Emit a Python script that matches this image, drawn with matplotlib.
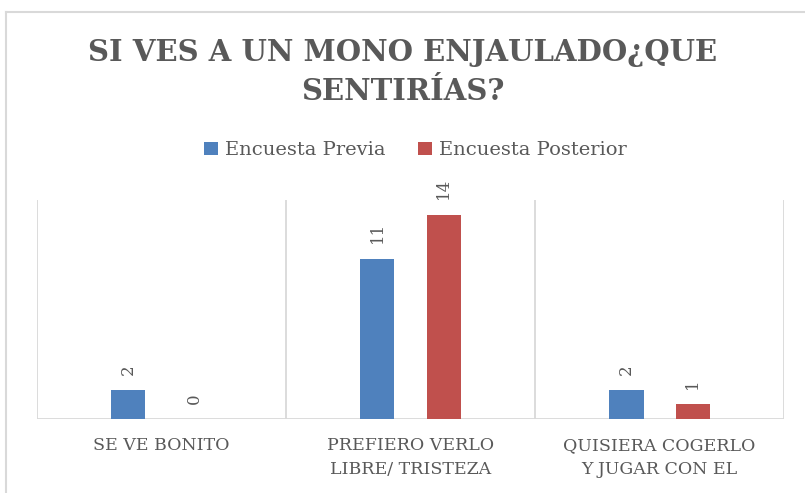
import numpy as np
import matplotlib
matplotlib.use("Agg")
import matplotlib.pyplot as plt
from matplotlib.lines import Line2D

categories = ["SE VE BONITO", "PREFIERO VERLO\nLIBRE/ TRISTEZA", "QUISIERA COGERLO\nY JUGAR CON EL"]
previa = [2, 11, 2]
posterior = [0, 14, 1]
series_names = ["Encuesta Previa", "Encuesta Posterior"]
title = "SI VES A UN MONO ENJAULADO¿QUE\nSENTIRÍAS?"

BLUE = "#4F81BD"
RED = "#C0504D"
TEXT = "#595959"
GRID = "#D9D9D9"

plt.rcParams['font.family'] = ['DejaVu Serif']

fig = plt.figure(figsize=(8.05, 4.93), dpi=100)
ax = fig.add_axes([0.046, 0.150, 0.928, 0.444])

x = np.arange(len(categories))
width = 0.137
off = 0.133
b1 = ax.bar(x - off, previa, width, color=BLUE, label=series_names[0])
b2 = ax.bar(x + off, posterior, width, color=RED, label=series_names[1])

# data labels, rotated like the original
for bars in (b1, b2):
    for rect in bars:
        h = rect.get_height()
        ax.annotate(str(int(h)), (rect.get_x() + rect.get_width() / 2, h),
                    xytext=(0, 11), textcoords="offset points",
                    ha="center", va="bottom", rotation=90,
                    color=TEXT, fontsize=12)

ax.set_xlim(-0.5, len(categories) - 0.5)
ax.set_ylim(0, 15)

# category separators
for b in np.arange(-0.5, len(categories), 1.0):
    ax.axvline(b, color=GRID, lw=1.3, zorder=0)

for s in ax.spines.values():
    s.set_visible(False)
ax.axhline(0, color=GRID, lw=1.3, zorder=0)

ax.set_yticks([])
ax.set_xticks(x)
ax.set_xticklabels(categories, color=TEXT, fontsize=12.5, linespacing=1.5)
ax.tick_params(axis="x", length=0, pad=13)

fig.text(0.5, 0.854, title, ha="center", va="center", fontsize=21,
         fontweight="bold", color=TEXT, linespacing=1.45)

leg = fig.legend(loc="center", bbox_to_anchor=(0.516, 0.695), ncol=2,
                 frameon=False, fontsize=14, handlelength=0.7, handleheight=0.7,
                 handletextpad=0.35, columnspacing=1.7)
for t in leg.get_texts():
    t.set_color(TEXT)

# outer chart border (left and top edges visible)
fig.add_artist(Line2D([6 / 805, 6 / 805], [0, 1 - 12 / 493], transform=fig.transFigure,
                      color=GRID, lw=1.5))
fig.add_artist(Line2D([6 / 805, 1], [1 - 12 / 493, 1 - 12 / 493], transform=fig.transFigure,
                      color=GRID, lw=1.5))

fig.savefig("out.png", dpi=100)
